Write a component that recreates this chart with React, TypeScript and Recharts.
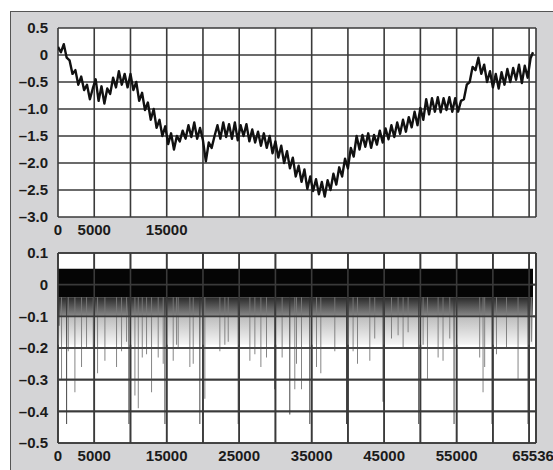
import { Area, Bar, CartesianGrid, Cell, ComposedChart, Line, LineChart, XAxis, YAxis } from "recharts";

// sample positions run 0..65536, the axis is drawn a little past the last sample
const X_MAX = 65950;
const SAMPLE_STEP = 400;
const LAST_SAMPLE = 65536;

const gridX = [0, 5000, 10000, 15000, 20000, 25000, 30000, 35000, 40000, 45000, 50000, 55000, 60000, 65000, X_MAX];
const topXTicks = [0, 5000, 15000];
const bottomXTicks = [0, 5000, 15000, 25000, 35000, 45000, 55000, 65536];
const topYTicks = [0.5, 0, -0.5, -1, -1.5, -2, -2.5, -3];
const bottomYTicks = [0.1, 0, -0.1, -0.2, -0.3, -0.4, -0.5];

// upper trace, one value every SAMPLE_STEP
const walk = [
  0.15, 0.05, 0.2, -0.05, -0.1, -0.35, -0.28, -0.55, -0.4, -0.65,
  -0.55, -0.82, -0.62, -0.45, -0.85, -0.58, -0.9, -0.62, -0.72, -0.42,
  -0.6, -0.3, -0.55, -0.35, -0.6, -0.35, -0.65, -0.5, -0.85, -0.7,
  -1.02, -0.88, -1.2, -1.0, -1.35, -1.2, -1.5, -1.32, -1.65, -1.45,
  -1.75, -1.5, -1.6, -1.4, -1.55, -1.3, -1.52, -1.25, -1.55, -1.35,
  -1.58, -1.97, -1.62, -1.72, -1.5, -1.3, -1.55, -1.25, -1.52, -1.28,
  -1.55, -1.25, -1.58, -1.3, -1.5, -1.28, -1.6, -1.38, -1.62, -1.42,
  -1.68, -1.45, -1.72, -1.5, -1.82, -1.6, -1.9, -1.68, -2.0, -1.78,
  -2.1, -1.9, -2.25, -2.05, -2.35, -2.12, -2.48, -2.25, -2.52, -2.3,
  -2.58, -2.35, -2.62, -2.32, -2.5, -2.2, -2.4, -2.08, -2.25, -1.92,
  -2.1, -1.72, -1.88, -1.5, -1.75, -1.48, -1.7, -1.45, -1.72, -1.48,
  -1.66, -1.4, -1.62, -1.36, -1.56, -1.3, -1.52, -1.25, -1.46, -1.2,
  -1.42, -1.15, -1.34, -1.05, -1.3, -0.98, -1.2, -0.82, -1.1, -0.8,
  -1.05, -0.78, -1.06, -0.8, -1.02, -0.78, -1.05, -0.8, -1.05, -0.85,
  -0.82, -0.55, -0.5, -0.22, -0.28, -0.05, -0.35, -0.18, -0.5, -0.3,
  -0.6, -0.35, -0.62, -0.32, -0.55, -0.26, -0.5, -0.24, -0.46, -0.18,
  -0.52, -0.2, -0.42, -0.06, 0.05,
];

// lower trace: dense band plus downward spikes
const bandTop = 0.05;
const bandBottom = -0.04;
const fringeBottom = -0.1;
const fadeBottom = -0.19;

const darkSpikeX = [140, 1200, 9790, 14760, 19580, 24870, 29920, 31990, 34750, 39810, 44860, 49780, 54650, 59890, 64860];
const darkSpikeDepth = [-0.13, -0.44, -0.44, -0.44, -0.44, -0.44, -0.33, -0.41, -0.44, -0.44, -0.37, -0.44, -0.44, -0.44, -0.44];

const lightSpikeX = [
  500, 1420, 2340, 3260, 3950, 4870, 5470, 6480, 8090, 8780,
  9470, 10620, 11080, 11630, 12230, 12920, 13830, 14520, 15900, 16370,
  16590, 18200, 18660, 20270, 22340, 23030, 23490, 26480, 27170, 28000,
  28780, 30930, 32680, 32910, 33600, 35670, 36270, 38200, 40720, 41330,
  43030, 43710, 46020, 46930, 47620, 48310, 50380, 50980, 52450, 53130,
  54060, 54980, 58190, 58650, 58880, 60500, 61880, 63480, 65320,
];
const lightSpikeDepth = [
  -0.3, -0.21, -0.34, -0.26, -0.2, -0.2, -0.28, -0.24, -0.26, -0.21,
  -0.18, -0.35, -0.39, -0.23, -0.22, -0.34, -0.23, -0.25, -0.24, -0.19,
  -0.2, -0.26, -0.25, -0.36, -0.21, -0.19, -0.18, -0.24, -0.22, -0.26,
  -0.23, -0.23, -0.33, -0.25, -0.33, -0.26, -0.28, -0.21, -0.21, -0.25,
  -0.24, -0.17, -0.17, -0.16, -0.2, -0.15, -0.19, -0.3, -0.23, -0.24,
  -0.17, -0.2, -0.23, -0.34, -0.26, -0.22, -0.2, -0.3, -0.18,
];

const walkData = walk.map((v, i) => ({ x: Math.min(i * SAMPLE_STEP, LAST_SAMPLE), v }));

const noiseData = [
  { x: 0, kind: "none", spike: undefined as number[] | undefined },
  ...darkSpikeX.map((x, i) => ({ x, kind: "dark", spike: [darkSpikeDepth[i], bandBottom] })),
  ...lightSpikeX.map((x, i) => ({ x, kind: "light", spike: [lightSpikeDepth[i], bandBottom] })),
  { x: LAST_SAMPLE, kind: "none", spike: undefined as number[] | undefined },
]
  .sort((a, b) => a.x - b.x)
  .map((row) => ({
    ...row,
    band: [bandBottom, bandTop],
    fringe: [fringeBottom, bandBottom],
    fade: [fadeBottom, fringeBottom],
  }));

const tickStyle = {
  fontSize: 15,
  fontWeight: 700,
  fill: "#1b1b1b",
  fontFamily: "'Liberation Sans', Arial, Helvetica, sans-serif",
};
const GRID = "#3a3a3a";

const fmtY = (v: number) => (v === 0 ? "0" : (v < 0 ? "\u2013" : "") + Math.abs(v).toFixed(1));

export default function App() {
  return (
    <div style={{ position: "absolute", left: 0, top: 0, width: 553, height: 470, overflow: "hidden", background: "#fff" }}>
      <div
        style={{
          position: "absolute",
          left: 10,
          top: 11,
          right: 0,
          bottom: 0,
          background: "#d4d4d6",
          borderTop: "1.5px solid #555",
          borderLeft: "1.5px solid #555",
        }}
      />
      <div style={{ position: "absolute", left: 0, top: 0 }}>
        <LineChart width={553} height={240} data={walkData} margin={{ top: 28, right: 17, bottom: 3, left: 10 }}>
          <CartesianGrid stroke={GRID} strokeWidth={1.6} fill="#fff" fillOpacity={1} verticalValues={gridX} />
          <XAxis
            type="number"
            dataKey="x"
            domain={[0, X_MAX]}
            ticks={topXTicks}
            interval={0}
            height={20}
            tickLine={false}
            axisLine={false}
            tickSize={0}
            tickMargin={7}
            tick={tickStyle}
            allowDataOverflow
          />
          <YAxis
            domain={[-3, 0.5]}
            ticks={topYTicks}
            interval={0}
            width={48}
            tickLine={false}
            axisLine={false}
            tickSize={0}
            tickMargin={10}
            tick={tickStyle}
            tickFormatter={fmtY}
            allowDataOverflow
          />
          <Line type="linear" dataKey="v" stroke="#111" strokeWidth={2.4} strokeLinejoin="round" dot={false} activeDot={false} isAnimationActive={false} />
        </LineChart>
      </div>
      <div style={{ position: "absolute", left: 0, top: 240 }}>
        <ComposedChart width={553} height={230} data={noiseData} margin={{ top: 13, right: 17, bottom: 5, left: 10 }}>
          <defs>
            <linearGradient id="fringeFill" x1="0" y1="0" x2="0" y2="1">
              <stop offset="0%" stopColor="#2a2a2a" />
              <stop offset="100%" stopColor="#8a8a8a" />
            </linearGradient>
            <linearGradient id="fadeFill" x1="0" y1="0" x2="0" y2="1">
              <stop offset="0%" stopColor="#bcbcbc" />
              <stop offset="100%" stopColor="#f6f6f6" />
            </linearGradient>
          </defs>
          <CartesianGrid stroke={GRID} strokeWidth={1.6} fill="#fff" fillOpacity={1} verticalValues={gridX} />
          <XAxis
            type="number"
            dataKey="x"
            domain={[0, X_MAX]}
            ticks={bottomXTicks}
            interval={0}
            height={22}
            tickLine={false}
            axisLine={false}
            tickSize={0}
            tickMargin={7}
            tick={tickStyle}
            allowDataOverflow
          />
          <YAxis
            domain={[-0.5, 0.1]}
            ticks={bottomYTicks}
            interval={0}
            width={48}
            tickLine={false}
            axisLine={false}
            tickSize={0}
            tickMargin={10}
            tick={tickStyle}
            tickFormatter={fmtY}
            allowDataOverflow
          />
          <Area type="linear" dataKey="fade" stroke="none" fill="url(#fadeFill)" fillOpacity={1} dot={false} activeDot={false} isAnimationActive={false} />
          <Area type="linear" dataKey="fringe" stroke="none" fill="url(#fringeFill)" fillOpacity={1} dot={false} activeDot={false} isAnimationActive={false} />
          <Bar dataKey="spike" barSize={1.5} isAnimationActive={false}>
            {noiseData.map((row, i) => (
              <Cell key={i} fill={row.kind === "dark" ? "#333" : "#7a7a7a"} />
            ))}
          </Bar>
          <Area type="linear" dataKey="band" stroke="none" fill="#050505" fillOpacity={1} dot={false} activeDot={false} isAnimationActive={false} />
          <CartesianGrid stroke={GRID} strokeWidth={1.6} fill="none" verticalValues={gridX} zIndex={1000} />
        </ComposedChart>
      </div>
    </div>
  );
}
